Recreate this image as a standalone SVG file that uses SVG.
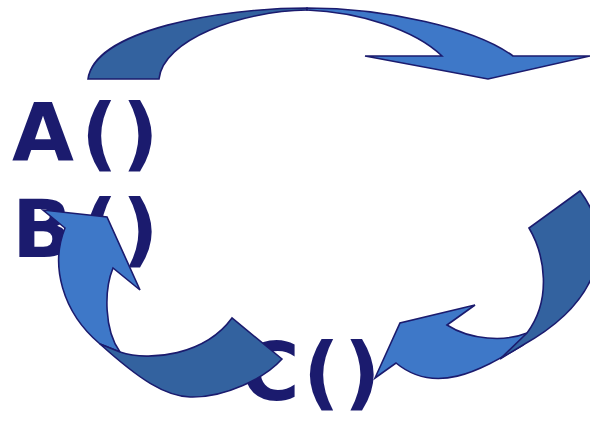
<svg xmlns="http://www.w3.org/2000/svg" width="590" height="421" viewBox="0 0 590 421">
<style>
.lbl{font-family:"DejaVu Sans","Verdana",sans-serif;font-weight:bold;font-size:80px;fill:#1b1b6e}
.dk{fill:#33629f;stroke:#1b1b6e;stroke-width:1.6;stroke-linejoin:miter}
.lt{fill:#3e78c8;stroke:#1b1b6e;stroke-width:1.6;stroke-linejoin:miter}
</style>
<rect width="590" height="421" fill="#ffffff"/>
<g id="nodeA"><text class="lbl" x="12 81 122" y="161">A()</text></g>
<g id="nodeB"><text class="lbl" x="12 81 122" y="257">B()</text></g>
<g id="nodeC"><text class="lbl" x="241 303 344" y="400">C()</text></g>
<g id="connectors">
<g id="arrowAB">
<path class="dk" d="M88,79 C95,30 220,8 307,8 L307,10 C240,11 163,40 159,79 Z"/>
<path class="lt" d="M307,8 C385,8 475,28 513,56 L590,56 L488,79 L365,56 L442,56 C415,30 360,12 307,10 Z"/>
</g>
<g id="arrowBC">
<path class="lt" d="M447,325 L475,305 L400,323 L375,378 L396,363 C435,395 478,372 523,345 L527,333 C505,342 470,340 447,325 Z"/>
<path class="dk" d="M580,191 L529,228 C545,255 552,300 527,333 L500,359 L523,345 C595,305 620,245 580,191 Z"/>
</g>
<g id="arrowCB">
<path class="lt" d="M65,228 L43,210 L107,217 L140,290 L113,268 C104,290 104,330 120,352 L100,344 C62,312 50,265 65,228 Z"/>
<path class="dk" d="M100,344 L120,352 C150,362 205,355 232,318 L282,359 C265,378 225,398 190,397 C165,396 140,380 100,344 Z"/>
</g>
</g>
</svg>
